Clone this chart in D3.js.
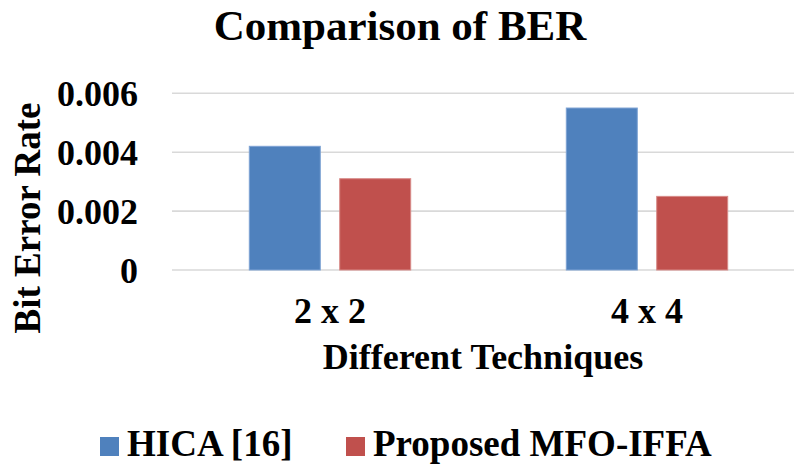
<!DOCTYPE html>
<html><head><meta charset="utf-8">
<script src="https://cdn.jsdelivr.net/npm/d3@7"></script>
<style>html,body{margin:0;padding:0;background:#fff;}svg{display:block;}</style>
</head><body>
<svg id="chart" width="794" height="464"></svg>
<script>
const categories = ["2 x 2", "4 x 4"];
const seriesNames = ["HICA [16]", "Proposed MFO-IFFA"];
const hicaValues = [0.0042, 0.0055];
const proposedValues = [0.0031, 0.0025];
const yTicks = [0, 0.002, 0.004, 0.006];
const colors = ["#4F81BD", "#C0504D"];
const borders = ["#7EA3D4", "#D88A88"];

const FONT = "'Liberation Serif','Times New Roman',serif";
const svg = d3.select("#chart");
const seriesValues = [hicaValues, proposedValues];

const y = d3.scaleLinear().domain([0, 0.006]).range([270, 93.3]);
const x0 = d3.scaleBand().domain(categories).range([171.5, 805.5]).padding(0);
const groupW = 161.4;
const x1 = d3.scaleBand().domain(seriesNames).range([0, groupW]).paddingInner(0.2146).paddingOuter(0);

// gridlines
svg.append("g").selectAll("line").data(yTicks).join("line")
  .attr("x1", 172).attr("x2", 794)
  .attr("y1", d => y(d)).attr("y2", d => y(d))
  .attr("stroke", "#D9D9D9").attr("stroke-width", 1.6);

// y axis labels
const yAxis = d3.axisLeft(y).tickValues(yTicks).tickSize(0).tickPadding(0)
  .tickFormat(d => d === 0 ? "0" : d3.format(".3f")(d));
const ya = svg.append("g").attr("transform", "translate(138,0)").call(yAxis);
ya.select(".domain").remove();
ya.selectAll("text").attr("font-family", FONT).attr("font-weight", "bold")
  .attr("font-size", 36).attr("fill", "#000").attr("dy", "0.34em");

// bars
const groups = svg.append("g").selectAll("g").data(categories).join("g")
  .attr("transform", c => `translate(${x0(c) + (x0.bandwidth() - groupW) / 2},0)`);
groups.selectAll("rect").data((c, i) => seriesNames.map((s, j) => ({s, j, v: seriesValues[j][i]})))
  .join("rect")
  .attr("x", d => x1(d.s)).attr("width", x1.bandwidth())
  .attr("y", d => y(d.v)).attr("height", d => y(0) - y(d.v))
  .attr("fill", d => colors[d.j]).attr("stroke", d => borders[d.j]).attr("stroke-width", 1);

// x axis labels
const xAxis = d3.axisBottom(x0).tickSize(0).tickPadding(0);
const xa = svg.append("g").attr("transform", "translate(0,323)").call(xAxis);
xa.select(".domain").remove();
xa.selectAll("text").attr("font-family", FONT).attr("font-weight", "bold")
  .attr("font-size", 36).attr("fill", "#000").attr("dy", 0).attr("y", 0);

// title
svg.append("text").attr("x", 400).attr("y", 40).attr("text-anchor", "middle")
  .attr("font-family", FONT).attr("font-weight", "bold").attr("font-size", 43)
  .text("Comparison of BER");

// x title
svg.append("text").attr("x", 483).attr("y", 369).attr("text-anchor", "middle")
  .attr("font-family", FONT).attr("font-weight", "bold").attr("font-size", 36)
  .text("Different Techniques");

// y title
svg.append("text").attr("transform", "translate(39.5,218) rotate(-90)").attr("text-anchor", "middle")
  .attr("font-family", FONT).attr("font-weight", "bold").attr("font-size", 37)
  .text("Bit Error Rate");

// legend
const legendX = [100, 346];
const lg = svg.append("g").selectAll("g").data(seriesNames).join("g")
  .attr("transform", (d, i) => `translate(${legendX[i]},0)`);
lg.append("rect").attr("x", 0).attr("y", 437).attr("width", 19).attr("height", 19)
  .attr("fill", (d, i) => colors[i]);
lg.append("text").attr("x", 27).attr("y", 456)
  .attr("font-family", FONT).attr("font-weight", "bold").attr("font-size", 37)
  .text(d => d);
</script>
</body></html>
